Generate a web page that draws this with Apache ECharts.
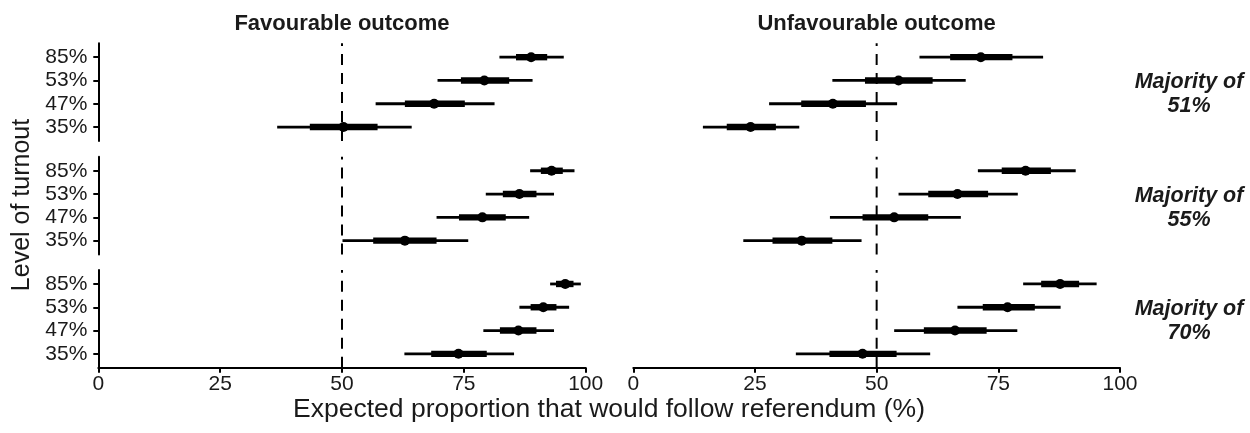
<!DOCTYPE html>
<html>
<head>
<meta charset="utf-8">
<script src="https://cdn.jsdelivr.net/npm/echarts@6/dist/echarts.min.js"></script>
<style>
html,body{margin:0;padding:0;background:#fff;}
#chart{width:1250px;height:433px;}
</style>
</head>
<body>
<div id="chart"></div>
<script>
// Turnout levels (bottom to top), y positions 1..4
const turnoutLabels = ['35%', '47%', '53%', '85%'];
const outcomeTitles = ['Favourable outcome', 'Unfavourable outcome'];
const majorityLabels = ['Majority of\n51%', 'Majority of\n55%', 'Majority of\n70%'];
const xTicks = [0, 25, 50, 75, 100];
const referenceLine = 50;

// Each row: [outer low, inner low, estimate, inner high, outer high] for 35%, 47%, 53%, 85%
const fav51 = [
  [36.7, 43.4, 50.3, 57.3, 64.3],
  [56.9, 62.9, 68.9, 75.2, 81.3],
  [69.6, 74.4, 79.2, 84.3, 89.1],
  [82.3, 85.7, 88.8, 92.1, 95.5]
];
const unfav51 = [
  [14.3, 19.2, 24.1, 29.3, 34.1],
  [27.9, 34.5, 41.0, 47.8, 54.2],
  [40.9, 47.6, 54.5, 61.5, 68.3],
  [58.8, 65.1, 71.4, 77.9, 84.2]
];
const fav55 = [
  [50.1, 56.4, 62.9, 69.4, 75.9],
  [69.4, 74.0, 78.8, 83.6, 88.4],
  [79.5, 83.0, 86.4, 89.9, 93.5],
  [88.6, 90.8, 93.0, 95.3, 97.7]
];
const unfav55 = [
  [22.6, 28.6, 34.6, 40.9, 46.9],
  [40.4, 47.1, 53.6, 60.6, 67.3],
  [54.5, 60.6, 66.6, 72.9, 79.0],
  [70.8, 75.7, 80.6, 85.8, 90.9]
];
const fav70 = [
  [62.8, 68.3, 73.9, 79.7, 85.3],
  [79.0, 82.4, 86.2, 89.9, 93.5],
  [86.4, 88.7, 91.3, 94.0, 96.6],
  [92.7, 93.9, 95.8, 97.5, 99.0]
];
const unfav70 = [
  [33.4, 40.3, 47.1, 54.1, 61.0],
  [53.6, 59.7, 66.1, 72.6, 78.9],
  [66.6, 71.8, 76.9, 82.5, 87.8],
  [80.1, 83.8, 87.7, 91.6, 95.2]
];

const facets = [
  [fav51, unfav51],
  [fav55, unfav55],
  [fav70, unfav70]
];

const FONT = '"Liberation Sans", Arial, Helvetica, sans-serif';
const TXT = '#1a1a1a';
const colLeft = [98.3, 633.3];
const colWidth = [487.4, 486.7];
const rowTop = [43.2, 156.8, 270];
const rowHeight = 97.8;

const grids = [], xAxes = [], yAxes = [], series = [];
let idx = 0;
for (let r = 0; r < 3; r++) {
  for (let c = 0; c < 2; c++) {
    grids.push({left: colLeft[c], top: rowTop[r], width: colWidth[c], height: rowHeight, containLabel: false});
    const showX = r === 2;
    const showY = c === 0;
    xAxes.push({
      type: 'value', gridIndex: idx, min: 0, max: 100, interval: 25,
      axisLine: {show: showX, lineStyle: {color: '#000', width: 2}},
      axisTick: {show: showX, length: 5, lineStyle: {color: '#000', width: 2}},
      axisLabel: {show: showX, fontSize: 21, color: TXT, fontFamily: FONT, margin: 6},
      splitLine: {show: false}
    });
    yAxes.push({
      type: 'value', gridIndex: idx, min: 0.4, max: 4.6,
      axisLine: {show: showY, lineStyle: {color: '#000', width: 2}},
      axisTick: {show: showY, length: 5, customValues: [1, 2, 3, 4], lineStyle: {color: '#000', width: 2}},
      axisLabel: {show: showY, fontSize: 21, color: TXT, fontFamily: FONT, margin: 11,
        customValues: [1, 2, 3, 4],
        formatter: function (v) { return turnoutLabels[Math.round(v) - 1] || ''; }},
      splitLine: {show: false}
    });
    // reference dashed line at 50
    series.push({
      type: 'line', xAxisIndex: idx, yAxisIndex: idx, silent: true, symbol: 'none',
      data: [[referenceLine, 0.4], [referenceLine, 4.6]],
      lineStyle: {color: '#000', width: 2, type: [11, 8]}, z: 1, animation: false
    });
    const rows = facets[r][c];
    const data = rows.map(function (d, i) { return [i + 1, d[0], d[1], d[2], d[3], d[4]]; });
    series.push({
      type: 'custom', xAxisIndex: idx, yAxisIndex: idx, z: 2, animation: false,
      data: data,
      encode: {x: [1, 5], y: 0},
      renderItem: function (params, api) {
        const y = api.value(0);
        const o1 = api.coord([api.value(1), y]);
        const i1 = api.coord([api.value(2), y]);
        const p = api.coord([api.value(3), y]);
        const i2 = api.coord([api.value(4), y]);
        const o2 = api.coord([api.value(5), y]);
        return {
          type: 'group',
          children: [
            {type: 'line', shape: {x1: o1[0], y1: o1[1], x2: o2[0], y2: o2[1]}, style: {stroke: '#000', lineWidth: 2.8}},
            {type: 'line', shape: {x1: i1[0], y1: i1[1], x2: i2[0], y2: i2[1]}, style: {stroke: '#000', lineWidth: 6.4}},
            {type: 'circle', shape: {cx: p[0], cy: p[1], r: 5}, style: {fill: '#000'}}
          ]
        };
      }
    });
    idx++;
  }
}

const graphics = [];
// column titles
for (let c = 0; c < 2; c++) {
  graphics.push({type: 'text', x: colLeft[c] + colWidth[c] / 2, y: 24,
    style: {text: outcomeTitles[c], fontSize: 22, fontWeight: 'bold', fontFamily: FONT, fill: TXT,
      textAlign: 'center', textVerticalAlign: 'middle', align: 'center', verticalAlign: 'middle'}});
}
// row strip labels
for (let r = 0; r < 3; r++) {
  graphics.push({type: 'text', x: 1189, y: rowTop[r] + rowHeight / 2 + 2,
    style: {text: majorityLabels[r], fontSize: 21.5, fontWeight: 'bold', fontStyle: 'italic', fontFamily: FONT, fill: TXT,
      lineHeight: 24, textAlign: 'center', textVerticalAlign: 'middle', align: 'center', verticalAlign: 'middle'}});
}
// axis titles
graphics.push({type: 'text', x: 609, y: 410,
  style: {text: 'Expected proportion that would follow referendum (%)', fontSize: 26.5, fontFamily: FONT, fill: TXT,
    textAlign: 'center', textVerticalAlign: 'middle', align: 'center', verticalAlign: 'middle'}});
graphics.push({type: 'text', x: 22, y: 205, rotation: Math.PI / 2,
  style: {text: 'Level of turnout', fontSize: 25, fontFamily: FONT, fill: TXT,
    textAlign: 'center', textVerticalAlign: 'middle', align: 'center', verticalAlign: 'middle'}});

const chart = echarts.init(document.getElementById('chart'), null, {renderer: 'canvas'});
chart.setOption({
  animation: false,
  backgroundColor: '#fff',
  grid: grids,
  xAxis: xAxes,
  yAxis: yAxes,
  series: series,
  graphic: {elements: graphics}
});
</script>
</body>
</html>
